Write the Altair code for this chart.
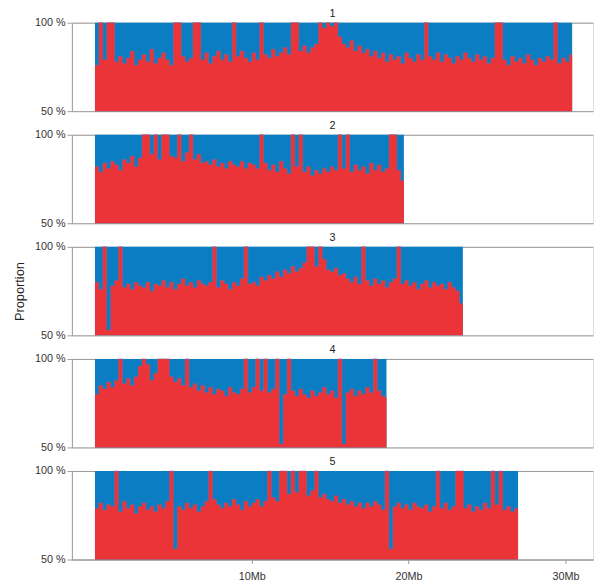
import altair as alt
import pandas as pd

BIN = 0.25  # Mb per value
chrom_names = ["1", "2", "3", "4", "5"]
chrom_lengths = [30.43, 19.70, 23.46, 18.59, 26.98]

chr1 = [76, 100, 79, 100, 100, 78, 81, 77, 80, 84, 76, 79, 82, 78, 85, 77,
        80, 83, 79, 76, 100, 100, 81, 78, 80, 100, 100, 79, 83, 77, 81, 84,
        79, 82, 78, 100, 81, 84, 80, 78, 83, 79, 100, 82, 80, 85, 81, 83,
        86, 82, 100, 100, 84, 87, 83, 86, 88, 100, 97, 100, 98, 100, 92, 88,
        86, 90, 84, 87, 83, 85, 81, 84, 80, 83, 78, 82, 79, 81, 77, 83,
        80, 78, 82, 79, 100, 81, 79, 83, 78, 82, 80, 77, 81, 79, 83, 80,
        78, 82, 79, 81, 77, 80, 100, 100, 79, 76, 81, 78, 80, 77, 82, 79,
        76, 80, 78, 81, 79, 100, 77, 80, 78, 82]
chr2 = [82, 79, 84, 81, 85, 83, 80, 86, 84, 88, 82, 87, 100, 100, 89, 100,
        86, 100, 100, 88, 87, 100, 85, 90, 100, 86, 89, 84, 85, 83, 86, 82,
        84, 81, 85, 83, 82, 85, 81, 84, 83, 81, 100, 84, 80, 83, 79, 85,
        81, 78, 100, 82, 100, 79, 82, 77, 80, 78, 81, 79, 82, 80, 100, 81,
        100, 79, 83, 80, 82, 78, 84, 80, 83, 79, 81, 100, 100, 80, 74]
chr3 = [80, 76, 100, 53, 78, 81, 100, 77, 79, 76, 80, 78, 77, 80, 75, 79,
        78, 81, 77, 80, 76, 79, 82, 78, 80, 77, 81, 79, 78, 80, 100, 77,
        81, 79, 76, 80, 78, 82, 100, 79, 80, 78, 83, 81, 84, 82, 86, 83,
        87, 85, 89, 86, 88, 91, 100, 100, 89, 100, 93, 87, 86, 88, 84, 85,
        82, 80, 83, 79, 100, 81, 78, 82, 79, 81, 77, 80, 82, 100, 79, 81,
        78, 80, 76, 79, 81, 77, 80, 78, 79, 76, 80, 77, 75, 68]
chr4 = [80, 85, 83, 87, 84, 88, 100, 86, 89, 85, 90, 96, 100, 97, 88, 92,
        100, 100, 100, 90, 87, 89, 85, 100, 84, 86, 82, 85, 81, 84, 80, 83,
        82, 79, 84, 81, 80, 83, 100, 81, 84, 100, 82, 100, 81, 83, 100, 52,
        80, 100, 82, 79, 83, 80, 78, 82, 79, 81, 84, 80, 82, 78, 100, 52,
        81, 83, 79, 82, 80, 84, 81, 100, 82, 79, 78]
chr5 = [79, 82, 78, 81, 80, 100, 77, 83, 79, 81, 76, 80, 82, 78, 80, 77,
        81, 79, 83, 100, 56, 80, 78, 82, 79, 81, 77, 80, 83, 100, 84, 81,
        79, 82, 80, 84, 81, 78, 83, 80, 82, 84, 80, 83, 100, 85, 83, 100,
        100, 87, 100, 88, 100, 100, 86, 89, 100, 85, 87, 84, 83, 86, 82, 84,
        81, 83, 80, 82, 79, 82, 80, 83, 81, 78, 100, 56, 80, 82, 79, 81,
        78, 82, 80, 79, 81, 77, 80, 100, 79, 82, 78, 80, 100, 100, 79, 81,
        77, 80, 78, 82, 79, 100, 81, 100, 78, 80, 77, 79]

series = [chr1, chr2, chr3, chr4, chr5]

RED = "#eb3438"
BLUE = "#0b7dc2"
EDGE = "#9a5c88"
GRAY = "#9a9a9a"

xscale = alt.Scale(domain=[-1.47, 31.76], nice=False, zero=False)
yscale = alt.Scale(domain=[50, 100], nice=False, zero=False)


def make_panel(k):
    vals = series[k]
    length = chrom_lengths[k]
    pos = [i * BIN for i in range(len(vals))] + [length]
    v = list(vals) + [vals[-1]]
    df = pd.DataFrame({"pos": pos, "val": v, "base": 50})
    bg = pd.DataFrame({"start": [0.0], "end": [length], "lo": [50], "hi": [100]})
    lab = pd.DataFrame({"label": [chrom_names[k]]})

    yaxis = alt.Axis(values=[50, 100], grid=True, gridColor=GRAY, gridWidth=1,
                     domainColor=GRAY, tickColor=GRAY, tickSize=5,
                     labelExpr="datum.value + ' %'", labelFontSize=11,
                     labelColor="#333", labelPadding=2,
                     title="Proportion" if k == 2 else None,
                     titleFontSize=13, titleFontWeight="normal",
                     titleColor="#222", titlePadding=8)
    if k == 4:
        xaxis = alt.Axis(values=[10, 20, 30], grid=False, labelExpr="datum.value + 'Mb'",
                         domainColor=GRAY, tickColor=GRAY, tickSize=4,
                         labelFontSize=11, labelColor="#333", title=None,
                         labelPadding=7)
    else:
        xaxis = None

    back = alt.Chart(bg).mark_rect(color=BLUE).encode(
        x=alt.X("start:Q", scale=xscale, axis=xaxis),
        x2="end:Q",
        y=alt.Y("lo:Q", scale=yscale, axis=yaxis),
        y2="hi:Q",
    )
    red = alt.Chart(df).mark_area(color=RED, interpolate="step-after").encode(
        x=alt.X("pos:Q", scale=xscale, axis=xaxis),
        y=alt.Y("val:Q", scale=yscale, axis=yaxis),
        y2="base:Q",
    )
    edge = alt.Chart(df).mark_line(color=EDGE, interpolate="step-after",
                                   strokeWidth=1.0, opacity=0.6).encode(
        x=alt.X("pos:Q", scale=xscale, axis=xaxis),
        y=alt.Y("val:Q", scale=yscale, axis=yaxis),
    )
    title = alt.Chart(lab).mark_text(fontSize=11, color="#222", baseline="bottom",
                                     align="center").encode(
        text="label:N",
        x=alt.value(265),
        y=alt.value(-4),
    )
    return alt.layer(back, red, edge, title).properties(width=530, height=90)


chart = alt.vconcat(*[make_panel(k) for k in range(5)], spacing=24, bounds="flush").properties(
    padding={"left": 5, "right": 0, "top": -6, "bottom": 0}
).configure_view(stroke=None).configure(font="Liberation Sans")

chart.save("out.html", embed_options={"renderer": "svg", "actions": False})
